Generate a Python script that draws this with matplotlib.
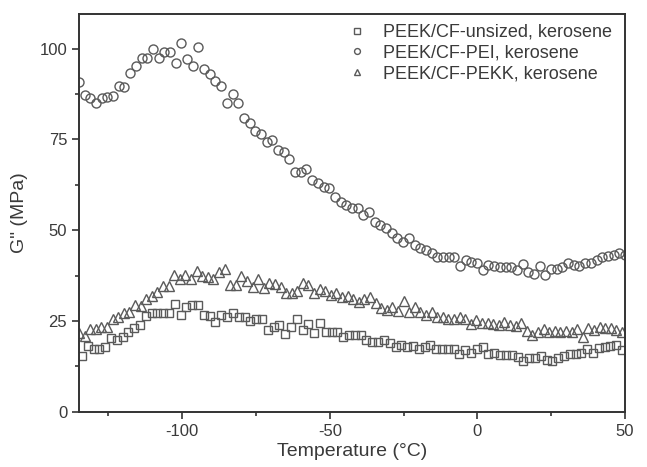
#!/usr/bin/env python3
"""G'' vs temperature for PEEK/CF laminates aged in kerosene."""

import matplotlib
matplotlib.use("Agg")
import matplotlib.pyplot as plt
import numpy as np
from matplotlib.ticker import MultipleLocator

plt.rcParams["font.family"] = ["Liberation Sans", "DejaVu Sans"]
plt.rcParams["axes.unicode_minus"] = False

# evenly spaced in temperature
unsized = [
    15.4, 18.1, 17.2, 17.2, 17.9, 20.2, 19.8, 20.5, 22.1, 23.0,
    23.9, 26.4, 27.1, 27.1, 27.1, 27.1, 29.7, 26.6, 28.8, 29.4,
    29.4, 26.6, 26.4, 24.8, 26.6, 26.0, 27.3, 26.0, 26.0, 25.1,
    25.5, 25.5, 22.5, 23.4, 23.9, 21.4, 23.4, 25.7, 22.5, 24.2,
    21.6, 24.4, 22.1, 22.1,
    22.0, 20.6, 21.2, 21.2, 21.2, 19.8, 19.2, 19.2, 19.8, 19.0,
    17.9, 18.4, 17.9, 18.1, 17.3, 17.9, 18.4, 17.3, 17.3, 17.3,
    17.3, 15.9, 17.0, 16.2, 17.3, 17.9,
    15.9, 16.3, 15.7, 15.7, 15.7, 15.2, 14.1, 14.8, 14.8, 15.4,
    14.3, 14.1, 14.8, 15.4, 15.9, 15.9, 16.3, 17.2, 16.3, 17.5,
    17.8, 18.1, 18.4, 17.0,
]
pei = [
    90.7, 87.1, 86.3, 85.0, 86.5, 86.6, 86.8, 89.6, 89.3, 93.2,
    95.3, 97.5, 97.5, 100.0, 97.5, 99.0, 99.0, 96.0, 101.4, 97.2,
    95.3, 100.4, 94.5, 92.9, 91.2, 89.6, 84.9, 87.6, 84.9, 81.0,
    79.4, 77.2, 76.6, 74.2, 74.7, 72.2, 71.4, 69.5, 65.9, 65.9,
    66.8, 63.7, 62.9, 61.8, 61.5,
    59.1, 57.7, 56.9, 56.0, 56.0, 54.1, 54.9, 52.2, 51.4, 50.5,
    49.2, 47.8, 46.7, 47.8, 45.9, 45.1, 44.5, 43.7, 42.6, 42.6,
    42.6, 42.6, 40.1, 41.8, 41.2,
    40.9, 39.0, 40.4, 40.1, 39.8, 39.8, 39.8, 39.0, 40.7, 38.5,
    37.9, 40.1, 37.6, 39.3, 39.3, 39.8, 40.9, 40.4, 40.1, 40.9,
    40.9, 41.8, 42.6, 42.9, 43.1, 43.7, 43.1,
]
pekk = [
    21.6, 20.9, 22.7, 22.7, 23.4, 23.4, 25.7, 26.0, 27.1, 27.6,
    29.4, 29.1, 31.0, 31.9, 33.1, 34.6, 34.6, 37.6, 36.5, 37.6,
    36.5, 38.8, 37.4, 37.2, 36.5, 38.5, 39.2, 34.9, 34.9, 37.4,
    36.1, 34.3, 36.5, 34.0, 35.5, 35.2, 34.3, 32.8, 32.8, 33.3,
    35.5, 34.9, 32.6, 33.7, 33.3,
    32.1, 32.6, 31.7, 31.9, 31.0, 30.3, 31.0, 31.5, 29.9, 28.5,
    28.0, 28.9, 27.8, 30.6, 27.6, 28.9, 27.6, 26.6, 27.6, 26.2,
    26.2, 25.7, 25.5, 26.2, 25.5, 24.2,
    25.3, 24.5, 24.5, 24.2, 23.9, 24.8, 23.9, 23.6, 24.5, 22.3,
    21.2, 22.1, 22.7, 22.1, 22.3, 22.1, 22.3, 22.1, 22.7, 20.5,
    23.0, 22.5, 23.4, 23.0, 23.0, 22.5, 22.1,
]
labels = ["PEEK/CF-unsized, kerosene", "PEEK/CF-PEI, kerosene", "PEEK/CF-PEKK, kerosene"]

t_unsized = np.linspace(-134, 49, len(unsized))
t_pei = np.linspace(-135, 50, len(pei))
t_pekk = np.linspace(-135, 49, len(pekk))

GREY = "#5a5a5a"
TXT = "#3a3a3a"

fig = plt.figure(figsize=(6.47, 4.67), dpi=100)
ax = fig.add_axes([0.122, 0.118, 0.844, 0.852])

ax.plot(t_unsized, unsized, ls="none", marker="s", ms=6.2, mfc="none", mec=GREY, mew=1.0, label=labels[0])
ax.plot(t_pei, pei, ls="none", marker="o", ms=6.5, mfc="none", mec=GREY, mew=1.0, label=labels[1])
ax.plot(t_pekk, pekk, ls="none", marker="^", ms=7.0, mfc="none", mec=GREY, mew=1.0, label=labels[2])

ax.set_xlim(-135, 50)
ax.set_ylim(0, 109.5)
ax.xaxis.set_major_locator(MultipleLocator(50))
ax.xaxis.set_minor_locator(MultipleLocator(25))
ax.yaxis.set_major_locator(MultipleLocator(25))
ax.yaxis.set_minor_locator(MultipleLocator(12.5))
ax.tick_params(which="both", direction="out", top=False, right=False, colors="#333333",
               labelcolor=TXT, labelsize=12, width=1.2)
ax.tick_params(which="major", length=5)
ax.tick_params(which="minor", length=3)
for sp in ax.spines.values():
    sp.set_linewidth(1.4)
    sp.set_color("#333333")

ax.set_xlabel("Temperature (\u00b0C)", fontsize=14, color=TXT, labelpad=3)
ax.set_ylabel('G" (MPa)', fontsize=14, color=TXT, labelpad=8)

leg = ax.legend(loc="upper right", frameon=False, fontsize=13, markerscale=0.65,
                handlelength=1.2, handletextpad=0.85, labelspacing=0.2,
                borderaxespad=0.15, bbox_to_anchor=(0.995, 1.0))
for txt in leg.get_texts():
    txt.set_color(TXT)

fig.savefig("out.png", dpi=100)
